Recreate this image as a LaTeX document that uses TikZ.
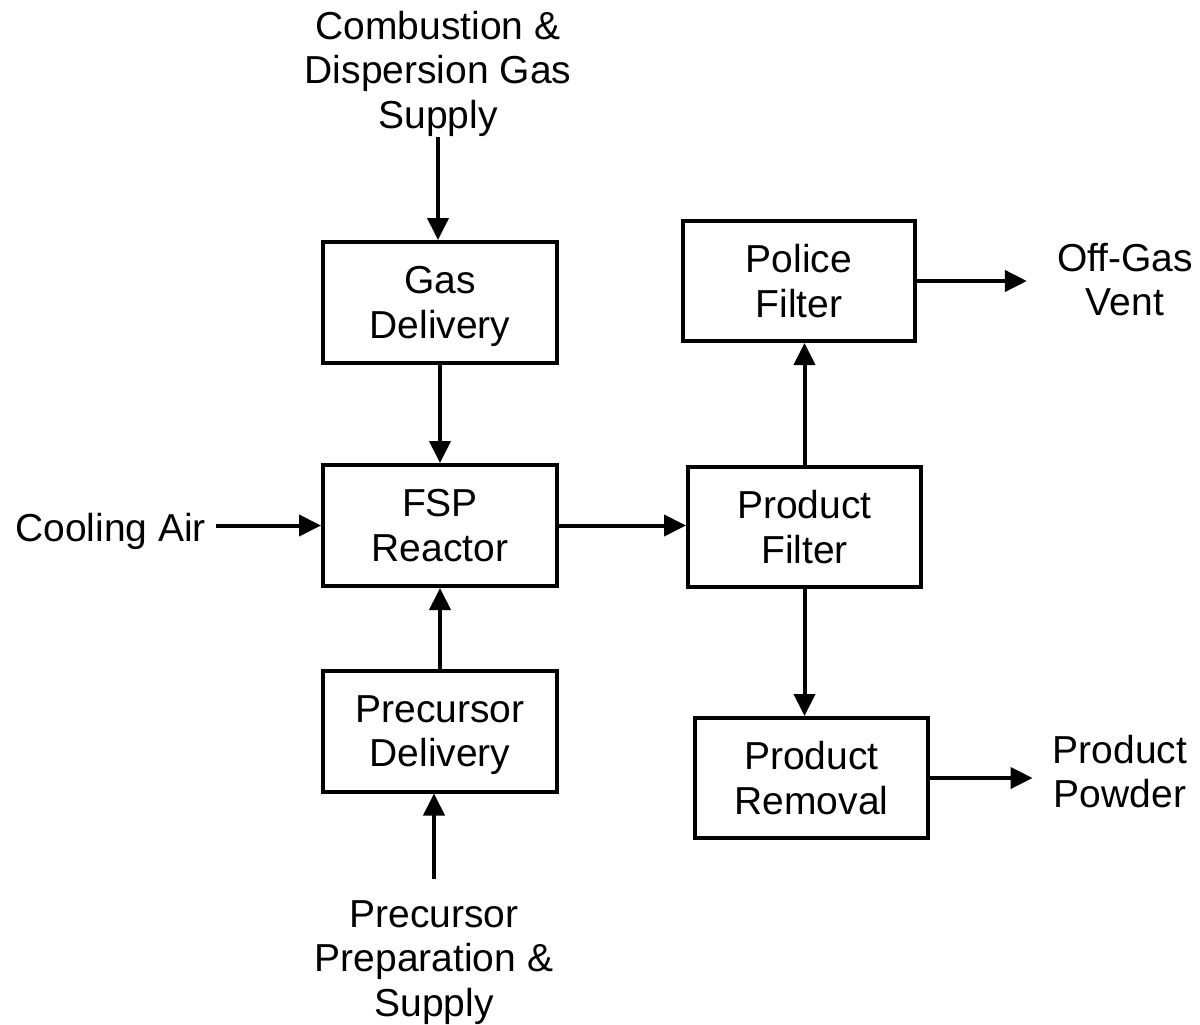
\documentclass[tikz,border=0pt]{standalone}
\usepackage{fontspec}
\setmainfont{Liberation Sans}
\usetikzlibrary{arrows.meta,calc}
\begin{document}
\begin{tikzpicture}[x=1pt,y=-1pt,
  txt/.style={font=\fontsize{39}{44.5}\selectfont, align=center, inner sep=0pt},
  blk/.style={txt, draw, line width=4pt, minimum width=234pt, minimum height=121pt},
  arr/.style={line width=4pt, -{Triangle[length=22pt,width=21pt]}}]
\useasboundingbox (0,0) rectangle (1200,1025);
% boxes
\node[blk] (gas) at (440,302.5) {Gas\\\smash{Delivery}};
\node[blk] (fsp) at (440,525.5) {FSP\\Reactor};
\node[blk] (precdel) at (440,731) {Precursor\\\smash{Delivery}};
\node[blk, minimum width=232pt, minimum height=120pt] (police) at (799,281) {Police\\Filter};
\node[blk, minimum width=233pt, minimum height=120pt] (pfilter) at (804.5,527) {Product\\Filter};
\node[blk, minimum width=233pt, minimum height=120pt] (removal) at (811.5,778) {Product\\Removal};
% free labels
\node[txt, anchor=north] (combust) at (438,11) {Combustion \&\\Dispersion Gas\\Supply};
\node[txt, anchor=north] (prep) at (434,900) {Precursor\\Preparation \&\\Supply};
\node[txt, anchor=base west] (cooling) at (15,541) {Cooling Air};
\node[txt, anchor=north] (offgas) at (1125,243) {Off-Gas\\Vent};
\node[txt, anchor=north] (powder) at (1120,735) {Product\\Powder};
% connectors
\draw[arr] (combust.south) -- (combust.south |- gas.north);
\draw[arr] (gas.south) -- (fsp.north);
\draw[arr, shorten <=10pt] (cooling.east |- fsp.west) -- (fsp.west);
\draw[arr] (precdel.north) -- (fsp.south);
\draw[arr, shorten <=21pt] (prep.north) -- (prep.north |- precdel.south);
\draw[arr] (fsp.east) -- (fsp.east -| pfilter.west);
\draw[arr] (pfilter.north) -- (pfilter.north |- police.south);
\draw[arr] (pfilter.south) -- (pfilter.south |- removal.north);
\draw[arr, shorten >=30pt] (police.east) -- (police.east -| offgas.west);
\draw[arr, shorten >=20pt] (removal.east) -- (removal.east -| powder.west);
\end{tikzpicture}
\end{document}
